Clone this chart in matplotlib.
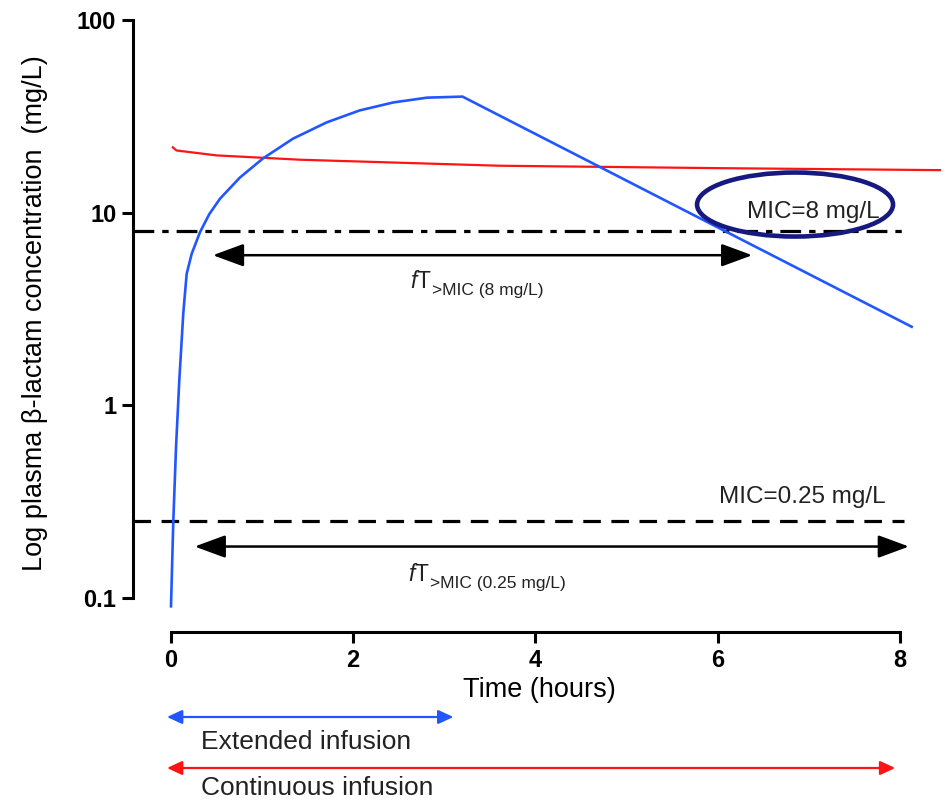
import matplotlib
matplotlib.use("Agg")
import matplotlib.pyplot as plt
from matplotlib.patches import Ellipse
from matplotlib.transforms import IdentityTransform

# ---- data --------------------------------------------------------------
ext_time = [0.0, 0.025, 0.055, 0.091, 0.135, 0.172, 0.227, 0.318, 0.42,
            0.538, 0.757, 1.01, 1.34, 1.71, 2.07, 2.44, 2.81, 3.2, 8.13]
ext_conc = [0.09, 0.246, 0.6, 1.34, 3.0, 4.8, 6.1, 7.9, 9.8,
            11.8, 15.2, 19.1, 24.2, 29.4, 33.9, 37.3, 39.5, 40.0, 2.55]

cont_time = [0.02, 0.06, 0.5, 1.42, 3.6, 6.0, 8.44]
cont_conc = [21.8, 21.0, 19.8, 18.8, 17.5, 17.0, 16.6]

mic_values = [8, 0.25]
mic_labels = ["MIC=8 mg/L", "MIC=0.25 mg/L"]
ft_start = [0.46, 0.26]
ft_end = [6.38, 8.1]
ft_level = [6.0, 0.184]
ft_subs = [">MIC (8 mg/L)", ">MIC (0.25 mg/L)"]

infusion_names = ["Extended infusion", "Continuous infusion"]
infusion_end = [3.1, 7.95]

x_ticks = [0, 2, 4, 6, 8]
y_ticks = [0.1, 1, 10, 100]
y_ticklabels = ["0.1", "1", "10", "100"]

BLUE = "#2256ff"
RED = "#ff1414"
NAVY = "#16197f"
TEXT = "#222222"

plt.rcParams.update({
    "font.family": ["Liberation Sans", "DejaVu Sans"],
    "mathtext.fontset": "custom",
    "mathtext.rm": "Liberation Sans",
    "mathtext.it": "Liberation Sans:italic",
})

fig = plt.figure(figsize=(9.5, 8), dpi=100, facecolor="white")
ax = fig.add_axes([133 / 950, 1 - 632 / 800, (945 - 133) / 950, (632 - 20) / 800])
ax.set_yscale("log")
ax.set_xlim(-0.417, 8.496)
ax.set_ylim(0.0662, 100)

# ---- spines / ticks (Prism style, offset axes) -------------------------
for s in ("top", "right"):
    ax.spines[s].set_visible(False)
ax.spines["left"].set_bounds(0.1, 100)
ax.spines["bottom"].set_bounds(0, 8)
for s in ("left", "bottom"):
    ax.spines[s].set_linewidth(2.2)
ax.set_xticks(x_ticks)
ax.set_xticklabels([str(t) for t in x_ticks])
ax.set_yticks(y_ticks)
ax.set_yticklabels(y_ticklabels)
ax.yaxis.set_minor_locator(matplotlib.ticker.NullLocator())
ax.tick_params(axis="both", direction="out", length=8, width=2.2,
               labelsize=17, pad=4)
for lab in ax.get_xticklabels() + ax.get_yticklabels():
    lab.set_fontweight("bold")

ax.set_xlabel("Time (hours)", fontsize=19.5, labelpad=4)
fig.text(35 / 950, 1 - 313 / 800, "Log plasma \u03b2-lactam concentration  (mg/L)",
         rotation=90, ha="center", va="center", fontsize=19.5)

# ---- curves ------------------------------------------------------------
ax.plot(cont_time, cont_conc, color=RED, lw=1.6, zorder=3, clip_on=False)
ax.plot(ext_time, ext_conc, color=BLUE, lw=1.9, zorder=4, clip_on=False,
        solid_joinstyle="round")

# ---- MIC lines ---------------------------------------------------------
ax.hlines(mic_values[0], -0.417, 8.05, colors="black", lw=2.3,
          linestyles=[(0, (6.5, 2.5, 2, 2.5))], zorder=2)
ax.hlines(mic_values[1], -0.417, 8.05, colors="black", lw=2.3,
          linestyles=[(0, (5.5, 3.3))], zorder=2)
ax.text(7.78, 10.1, mic_labels[0], ha="right", va="center", fontsize=17.5,
        color=TEXT)
ax.text(7.84, 0.331, mic_labels[1], ha="right", va="center", fontsize=17.5,
        color=TEXT)

# ellipse around the MIC=8 label (drawn in pixel space)
cx, cy = ax.transData.transform((6.85, 11.0))
ax.add_artist(Ellipse((cx, cy), 196, 64, transform=IdentityTransform(),
                      facecolor="none", edgecolor=NAVY, lw=3.3, zorder=6))

# ---- fT>MIC arrows -----------------------------------------------------
for x0, x1, yv in zip(ft_start, ft_end, ft_level):
    ax.annotate("", xy=(x1, yv), xytext=(x0, yv),
                arrowprops=dict(arrowstyle="<|-|>,head_length=1.9,head_width=0.7",
                                mutation_scale=10, lw=1.8, color="black",
                                shrinkA=0, shrinkB=0), zorder=5)

ft_x = [2.62, 2.60]
ft_y = [4.07, 0.1225]
for x, y, sub in zip(ft_x, ft_y, ft_subs):
    main = ax.text(x, y, r"$f$T", ha="left", va="baseline", fontsize=16.5,
                   color=TEXT)
    ax.annotate(sub, xy=(1, 0), xycoords=main, xytext=(0.5, -1.5),
                textcoords="offset points", ha="left", va="baseline",
                fontsize=12.5, color=TEXT)

# ---- infusion legend arrows below the axis -----------------------------
inf_colors = [BLUE, RED]
inf_arrow_y = [83, 32]
inf_text_y = [58, 12]
for name, end, col, ay, ty in zip(infusion_names, infusion_end, inf_colors,
                                  inf_arrow_y, inf_text_y):
    ax.annotate("", xy=(end, ay), xytext=(-0.044, ay),
                xycoords=("data", "figure pixels"),
                textcoords=("data", "figure pixels"),
                arrowprops=dict(arrowstyle="<|-|>,head_length=1.3,head_width=0.6",
                                mutation_scale=7, lw=1.6, color=col,
                                shrinkA=0, shrinkB=0),
                annotation_clip=False)
    ax.annotate(name, xy=(0.33, ty), xycoords=("data", "figure pixels"),
                ha="left", va="center", fontsize=19, color=TEXT,
                annotation_clip=False)

fig.savefig("out.png", dpi=100, facecolor="white")
